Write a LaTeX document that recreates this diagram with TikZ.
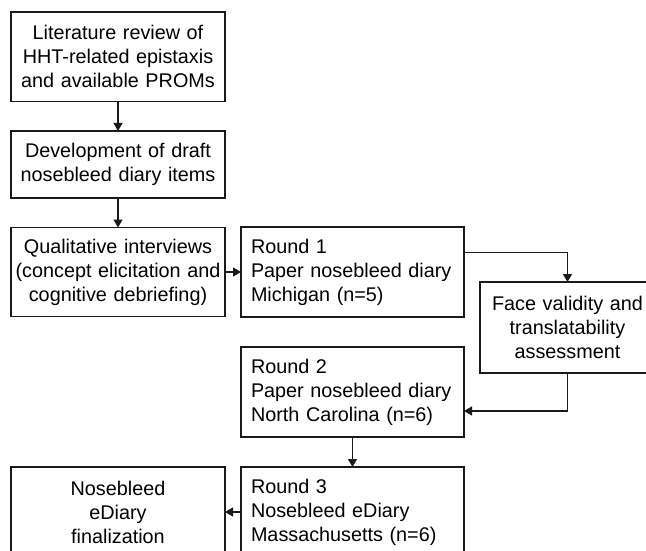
\documentclass[tikz,border=0pt]{standalone}
\usepackage{fontspec}
\setmainfont{Liberation Sans}
\usetikzlibrary{arrows.meta,calc}
\definecolor{ink}{HTML}{1A1A1A}
\tikzset{
  box/.style={draw=ink, line width=1.2pt, rectangle, inner sep=0pt, outer sep=0pt,
    font=\fontsize{19.8}{24}\selectfont, text=black},
  cbox/.style={box, align=center},
  lbox/.style={box, align=left},
  conn/.style={draw=ink, line width=1.2pt, -{Triangle[length=8pt,width=9pt]}}
}
\begin{document}
\begin{tikzpicture}[x=1pt,y=-1pt]
\useasboundingbox (0,0) rectangle (646,551);
\clip (0,0) rectangle (646,551);
\fill[white] (0,0) rectangle (646,551);
\node[cbox, minimum width=214pt, minimum height=89.5pt, text width=210pt] (lit) at (118,56.75)
  {Literature review of\\HHT-related epistaxis\\and available PROMs};
\node[cbox, minimum width=214pt, minimum height=67pt, text width=210pt] (dev) at (118,164.5)
  {Development of draft\\nosebleed diary items};
\node[cbox, minimum width=214pt, minimum height=89pt, text width=210pt] (qual) at (118,272)
  {Qualitative interviews\\(concept elicitation and\\cognitive debriefing)};
\node[lbox, minimum width=223pt, minimum height=90pt, text width=203pt] (r1) at (352.5,272)
  {Round 1\\Paper nosebleed diary\\Michigan (n=5)};
\node[cbox, minimum width=175pt, minimum height=91pt, text width=171pt] (face) at (567.5,327.5)
  {Face validity and\\translatability\\assessment};
\node[lbox, minimum width=223pt, minimum height=90pt, text width=203pt] (r2) at (352.5,392)
  {Round 2\\Paper nosebleed diary\\North Carolina (n=6)};
\node[lbox, minimum width=223pt, minimum height=90pt, text width=203pt] (r3) at (352.5,512)
  {Round 3\\Nosebleed eDiary\\Massachusetts (n=6)};
\node[cbox, minimum width=214pt, minimum height=90pt, text width=210pt] (fin) at (118,512)
  {Nosebleed\\eDiary\\finalization};
\draw[conn] (lit.south) -- (dev.north);
\draw[conn] (dev.south) -- (qual.north);
\draw[conn] (qual.east) -- (r1.west);
\draw[conn] ([yshift=19.5pt]r1.east) -| (face.north);
\draw[conn] (face.south) |- ([yshift=-19pt]r2.east);
\draw[conn] (r2.south) -- (r3.north);
\draw[conn] (r3.west) -- (fin.east);
\end{tikzpicture}
\end{document}
